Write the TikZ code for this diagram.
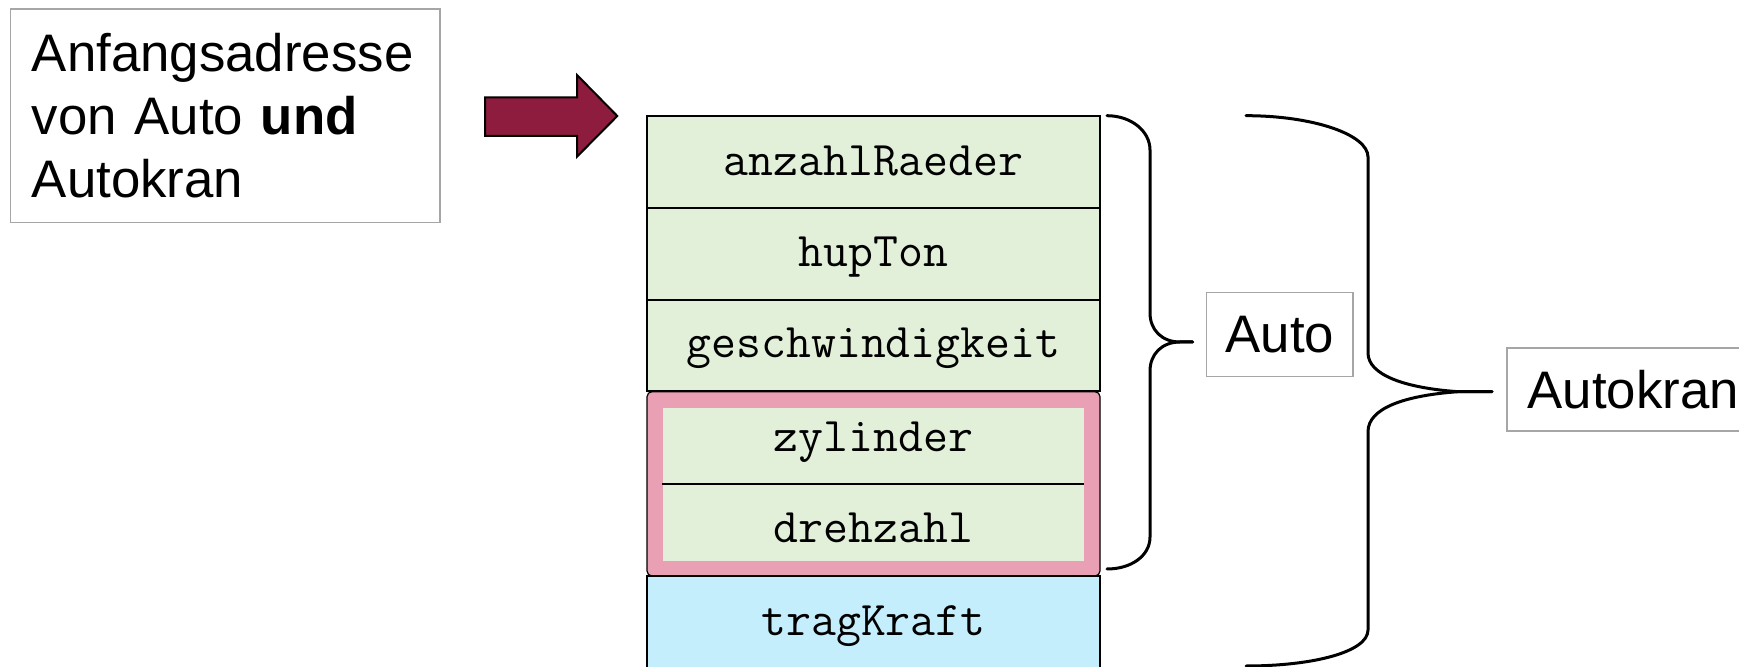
\documentclass[tikz,border=0pt]{standalone}
\usepackage{fontspec}
\setmainfont{Liberation Sans}
\definecolor{cellgreen}{RGB}{226,240,217}
\definecolor{cellblue}{RGB}{197,238,252}
\definecolor{grppink}{RGB}{234,160,180}
\definecolor{arrowred}{RGB}{142,28,62}
\definecolor{boxgray}{RGB}{166,166,166}
\begin{document}
\begin{tikzpicture}[x=0.5pt,y=-0.5pt,
  cell/.style={draw=black, line width=1pt, fill=cellgreen, minimum width=226.5pt,
    minimum height=45.9pt, inner sep=0pt, font=\fontsize{24.2}{28}\selectfont\ttfamily, text depth=0pt},
  innercell/.style={fill=cellgreen, minimum width=210.65pt, inner sep=0pt,
    font=\fontsize{24.2}{28}\selectfont\ttfamily, text depth=0pt},
  label/.style={draw=boxgray, line width=0.75pt, inner sep=0pt,
    font=\fontsize{26.4}{31.5}\selectfont},
  brace/.style={draw=black, line width=1.5pt, line cap=round, line join=round}]
\clip (0,0) rectangle (1739,667);

% left text box
\node[label, minimum width=214.65pt, minimum height=106.85pt, text width=193.5pt, align=left]
  (addr) at (225.35,115.85) {Anfangsadresse\\von Auto \textbf{und}\\Autokran};

% block arrow
\filldraw[fill=arrowred, draw=black, line width=1pt, line join=miter]
  (485,97.3) -- (577,97.3) -- (577,75) -- (617.3,116) -- (577,156.7) -- (577,136) -- (485,136) -- cycle;

% pink group
\node[draw=black, line width=0.6pt, fill=grppink, rounded corners=2.5pt, minimum width=226.5pt,
  minimum height=92.15pt, inner sep=0pt] (grp) at (873.5,483.85) {};
\node[innercell, minimum height=38pt, text height=5.7pt] (zyl) at (873.35,446) {zylinder};
\node[innercell, minimum height=38.5pt, text height=20.2pt] (dreh) at (873.35,522.5) {drehzahl};
\draw[line width=1pt] (zyl.south west) -- (zyl.south east);

% rows
\node[cell, text height=14pt] (r1) at (873.5,161.85) {anzahlRaeder};
\node[cell, text height=13pt] (r2) at (873.5,253.65) {hupTon};
\node[cell, text height=12.5pt] (r3) at (873.5,345.45) {geschwindigkeit};
\node[cell, fill=cellblue, text height=13pt] (r6) at (873.5,622) {tragKraft};

% labels
\node[label, minimum width=73.15pt, minimum height=42pt] (auto) at (1279.85,334.7) {Auto};
\node[label, anchor=west, minimum height=41.65pt, inner xsep=10.35pt] (kran) at (1506,389.5) {Autokran};

% Auto brace
\coordinate (atip) at (1192.7,342);
\draw[brace] (1107,115.7) .. controls (1131,115.7) and (1150,131) .. (1150,150)
  -- (1150,313) .. controls (1150,330) and (1162,342) .. (1180,342) -- (atip);
\draw[brace] (atip) -- (1180,342) .. controls (1162,342) and (1150,354) .. (1150,371)
  -- (1150,537) .. controls (1150,556) and (1131,569) .. (1107,569);

% Autokran brace
\coordinate (ktip) at (1492,391.7);
\draw[brace] (1246,115.7) .. controls (1313,115.7) and (1368,134.5) .. (1368,157)
  -- (1368,353) .. controls (1368,375) and (1405,388) .. (1458,391.7) -- (ktip);
\draw[brace] (ktip) -- (1458,391.7) .. controls (1405,395.5) and (1368,408) .. (1368,431.7)
  -- (1368,630) .. controls (1368,652) and (1313,666) .. (1246,666);
\end{tikzpicture}
\end{document}
